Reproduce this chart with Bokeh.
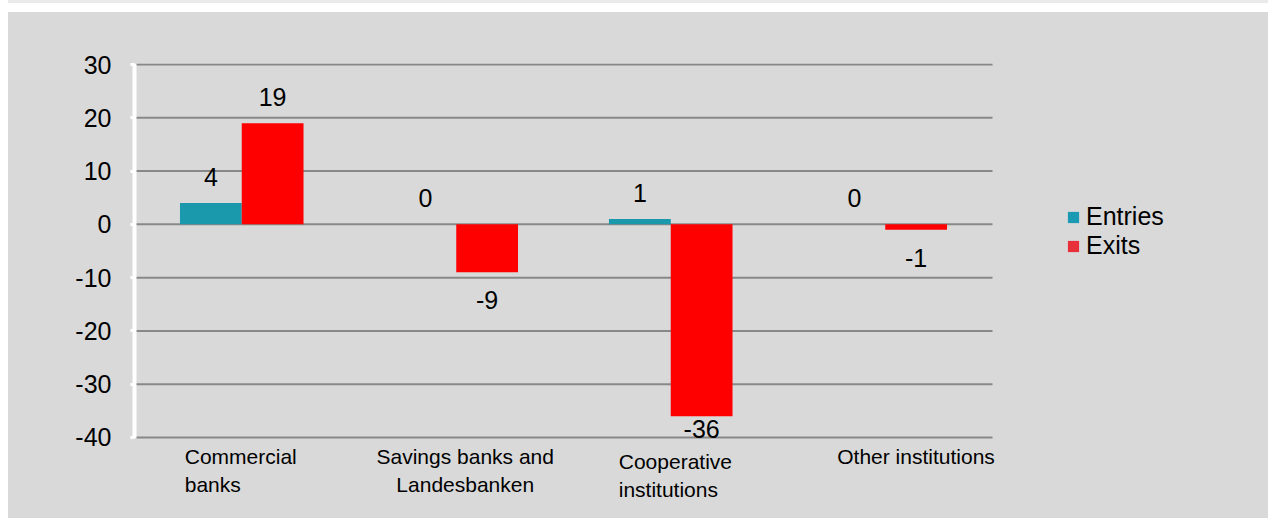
from bokeh.plotting import figure
from bokeh.models import (ColumnDataSource, LabelSet, Label, Legend, LegendItem,
                          Spacer, Range1d, FixedTicker)
from bokeh.core.properties import value
from bokeh.layouts import column, row
from bokeh.embed import file_html
from bokeh.resources import INLINE

# ---------------- data ----------------
categories = ["Commercial\nbanks", "Savings banks and\nLandesbanken",
              "Cooperative\ninstitutions", "Other institutions"]
entries = [4, 0, 1, 0]
exits = [19, -9, -36, -1]
series_names = ["Entries", "Exits"]
y_ticks = [-40, -30, -20, -10, 0, 10, 20, 30]

# ---------------- styles ----------------
BG = "#d9d9d9"
STRIP = "#eaeaea"
C_ENTRIES = "#1a99ad"
C_EXITS = "#ff0000"
LEG_ENTRIES = "#1a9bb3"
LEG_EXITS = "#e8303a"
GRID = "#888888"
FONT = "Liberation Sans"
BAR_W = 0.288

W, H = 1260, 506
BORDER_L, BORDER_T = 126, 51
CAT_PX = 214.5                      # px per category
PPU = 375 / 70.4                    # px per y unit
Y1 = 30.2
Y0 = Y1 - (H - BORDER_T) / PPU
X1 = (W - BORDER_L) / CAT_PX
AX_LO, AX_HI = -40.2, 30.2

p = figure(width=W, height=H, output_backend="svg", toolbar_location=None,
           x_range=Range1d(0, X1), y_range=Range1d(Y0, Y1),
           x_axis_location=None, min_border_left=BORDER_L, min_border_right=0,
           min_border_top=BORDER_T, min_border_bottom=0,
           background_fill_color=BG, border_fill_color=BG, outline_line_color=None,
           styles={"background-color": BG})

n = len(categories)
xc = [i + 0.5 for i in range(n)]
xe = [x - BAR_W / 2 for x in xc]
xx = [x + BAR_W / 2 for x in xc]

# horizontal gridlines across the category area
p.segment(x0=[0] * len(y_ticks), x1=[n] * len(y_ticks), y0=y_ticks, y1=y_ticks,
          line_color=GRID, line_width=2)

src = ColumnDataSource(dict(xe=xe, xx=xx, entries=entries, exits=exits))
p.vbar(x="xe", top="entries", bottom=0, width=BAR_W, source=src,
       fill_color=C_ENTRIES, line_color=None)
p.vbar(x="xx", top="exits", bottom=0, width=BAR_W, source=src,
       fill_color=C_EXITS, line_color=None)

# legend swatch renderers (placed outside the visible range)
r1 = p.vbar(x=[-10], top=[0], width=0.1, fill_color=LEG_ENTRIES, line_color=None)
r2 = p.vbar(x=[-10], top=[0], width=0.1, fill_color=LEG_EXITS, line_color=None)
legend = Legend(items=[LegendItem(label=series_names[0], renderers=[r1]),
                       LegendItem(label=series_names[1], renderers=[r2])],
                location=(932, 258), orientation="vertical",
                glyph_width=14, glyph_height=14, label_standoff=6, spacing=0,
                padding=0, margin=0, border_line_color=None,
                background_fill_alpha=0, label_text_font=FONT,
                label_text_font_size="25px", label_text_color="#000000")
p.add_layout(legend, "center")

# data labels
def lab_off(v):
    if v >= 0:
        return 26
    return -min(28, (v - AX_LO) * PPU - 10)

lx = xe + xx
lv = entries + exits
lsrc = ColumnDataSource(dict(x=lx, y=lv, t=[str(v) for v in lv],
                             off=[lab_off(v) for v in lv]))
p.add_layout(LabelSet(x="x", y="y", text="t", y_offset="off", source=lsrc,
                      text_align="center", text_baseline="middle",
                      text_font=value(FONT), text_font_size="25px",
                      text_color="#000000"))

# category labels
cat_align = ["left", "center", "left", "left"]
cat_dx = [-57, 9, -52, -48]
cat_dy = [-8, -8, -13, -8]
for i, c in enumerate(categories):
    p.add_layout(Label(x=xc[i], y=y_ticks[0], text=c, x_offset=cat_dx[i],
                       y_offset=cat_dy[i], text_align=cat_align[i],
                       text_baseline="top", text_font=FONT,
                       text_font_size="21px", text_color="#000000"))

# y axis
p.yaxis.ticker = FixedTicker(ticks=y_ticks)
p.yaxis.bounds = (AX_LO, AX_HI)
p.yaxis.major_label_overrides = {t: str(t) for t in y_ticks}
p.yaxis.axis_line_color = "white"
p.yaxis.axis_line_width = 4
p.yaxis.major_tick_line_color = "white"
p.yaxis.major_tick_line_width = 3
p.yaxis.major_tick_out = 4
p.yaxis.major_tick_in = 0
p.yaxis.minor_tick_line_color = None
p.yaxis.major_label_standoff = 19
p.yaxis.major_label_text_font = FONT
p.yaxis.major_label_text_font_size = "25px"
p.yaxis.major_label_text_color = "#000000"
p.xgrid.visible = False
p.ygrid.visible = False

layout = column(
    row(Spacer(width=8, height=3), Spacer(width=W, height=3, styles={"background-color": STRIP}), spacing=0),
    Spacer(width=W + 8, height=9),
    row(Spacer(width=8, height=H), p, spacing=0),
    spacing=0)
open("out.html", "w").write(file_html(layout, INLINE))
